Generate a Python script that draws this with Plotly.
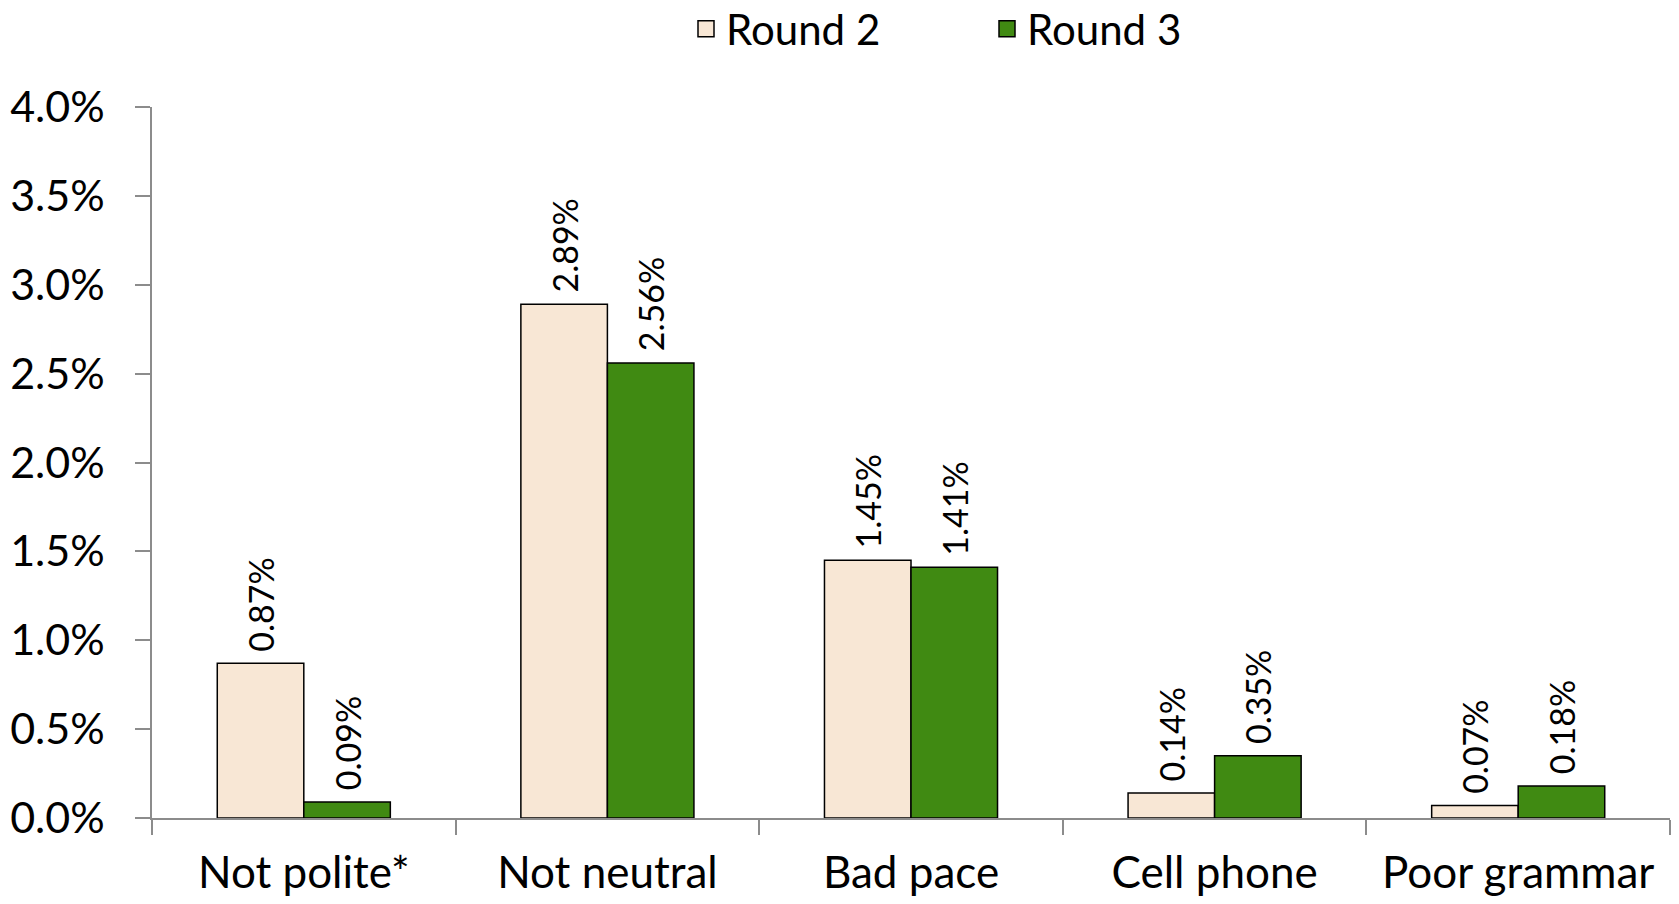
import plotly.graph_objects as go

categories = ["Not polite*", "Not neutral", "Bad pace", "Cell phone", "Poor grammar"]
round2 = [0.0087, 0.0289, 0.0145, 0.0014, 0.0007]
round3 = [0.0009, 0.0256, 0.0141, 0.0035, 0.0018]
series_names = ["Round 2", "Round 3"]
y_ticks = [0, 0.005, 0.01, 0.015, 0.02, 0.025, 0.03, 0.035, 0.04]

FONT = "Lato, Calibri, sans-serif"
colors = ["#F8E7D5", "#408A12"]

W, H = 1671, 896  # page body adds an 8px margin

fig = go.Figure()
for name, vals, col in zip(series_names, [round2, round3], colors):
    fig.add_trace(go.Bar(
        x=categories, y=vals, name=name, showlegend=False,
        marker=dict(color=col, line=dict(color="#000000", width=1.5)),
        texttemplate="\u00a0%{y:.2%}",
        textposition="outside", textangle=-90, constraintext="none",
        textfont=dict(family=FONT, size=34, color="#000000"),
        cliponaxis=False,
    ))
# legend entries (square swatches)
for name, col in zip(series_names, colors):
    fig.add_trace(go.Scatter(
        x=[None], y=[None], mode="markers", name=name,
        marker=dict(symbol="square", size=16, color=col, line=dict(color="#000000", width=1.5)),
    ))

fig.update_layout(
    width=W, height=H,
    margin=dict(l=144, r=9, t=99, b=86, autoexpand=False),
    paper_bgcolor="white", plot_bgcolor="white",
    barmode="group", bargap=0.43, bargroupgap=0,
    font=dict(family=FONT, size=43, color="#000000"),
    showlegend=True,
    legend=dict(orientation="h", xref="container", x=678 / W, xanchor="left",
                yref="container", y=1 - 21 / H, yanchor="middle",
                font=dict(family=FONT, size=42), entrywidth=256, traceorder="normal",
                itemsizing="trace"),
)
fig.update_xaxes(
    showline=True, linecolor="#8C8C8C", linewidth=1.5, automargin=False,
    ticks="outside", tickson="boundaries", ticklen=15, tickcolor="#8C8C8C", tickwidth=1.5,
    showgrid=False, ticklabelstandoff=15,
    tickfont=dict(family=FONT, size=44, color="#000000"),
)
fig.update_yaxes(
    range=[0, 0.04], tickvals=y_ticks, tickformat=".1%", automargin=False,
    showline=True, linecolor="#8C8C8C", linewidth=1.5,
    ticks="outside", ticklen=15, tickcolor="#8C8C8C", tickwidth=1.5,
    showgrid=False, zeroline=False, ticklabelstandoff=22,
    tickfont=dict(family=FONT, size=43, color="#000000"),
)

fig.write_html("out.html")
